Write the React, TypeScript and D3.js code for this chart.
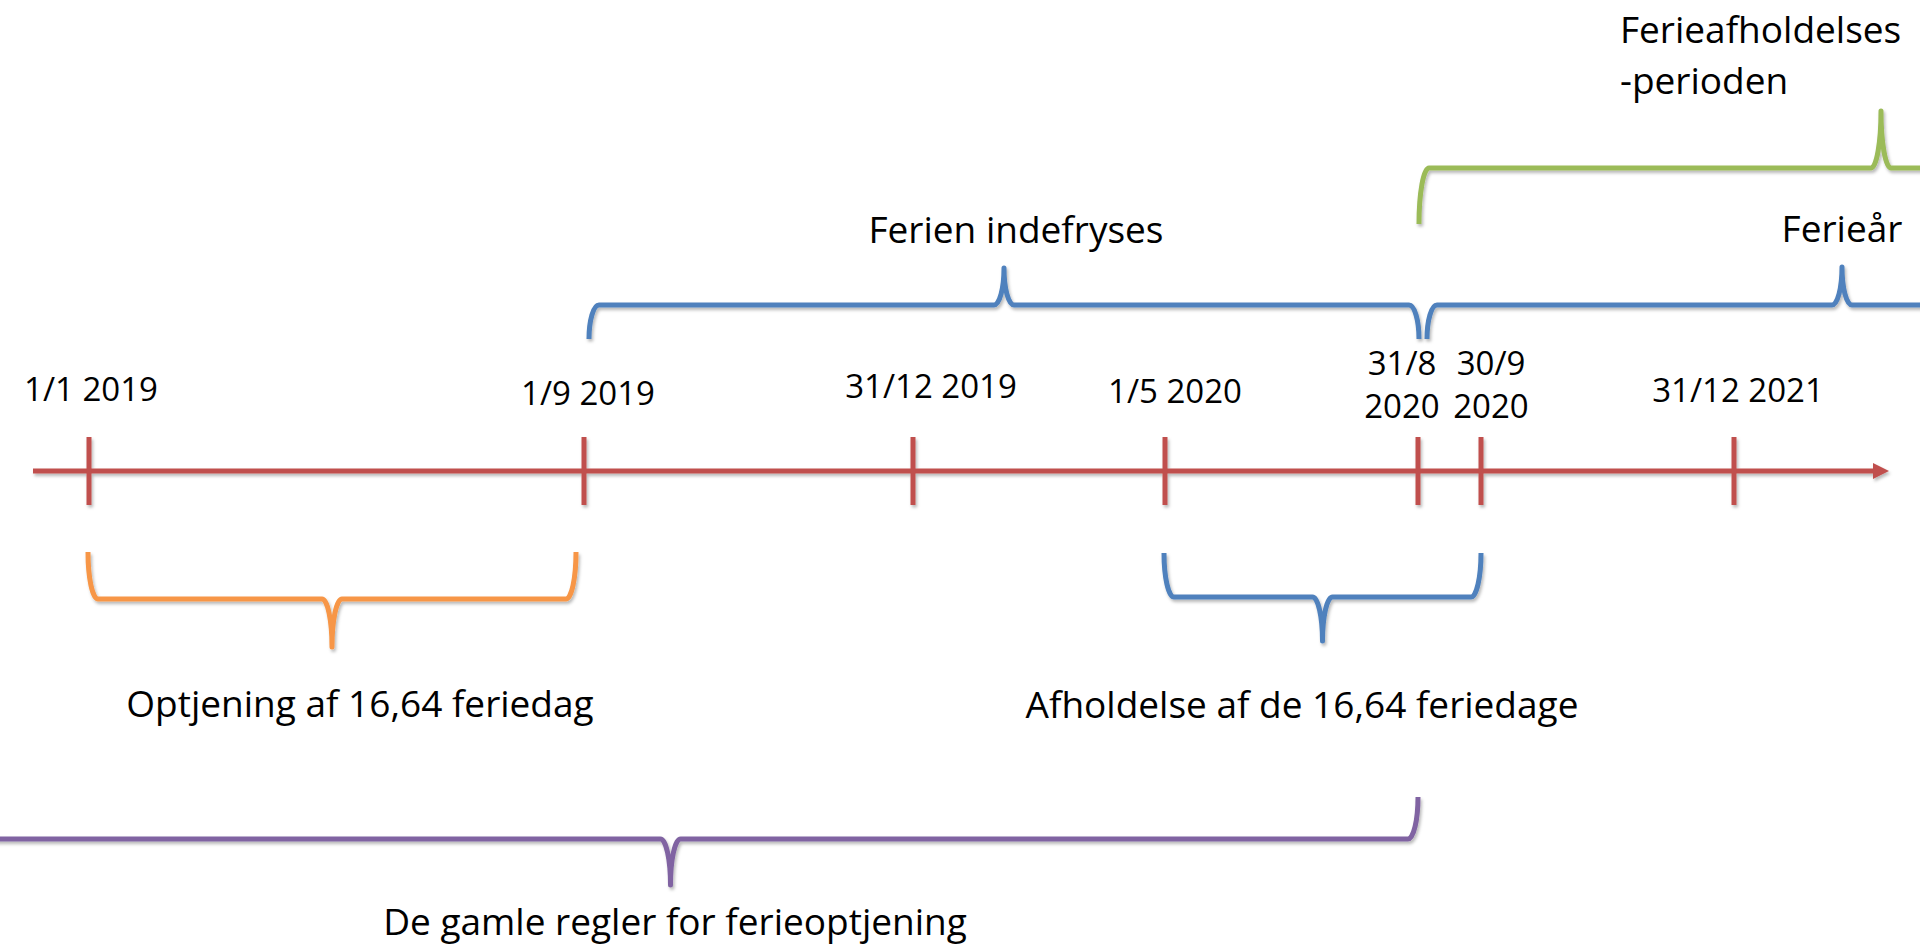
import React from "react";
import * as d3 from "d3";

// ---------- data (timeline units) ----------
const tickLabels = ["1/1 2019", "1/9 2019", "31/12 2019", "1/5 2020", "31/8\n2020", "30/9\n2020", "31/12 2021"];
const tickPositions = [89, 584, 913, 1165, 1418, 1481, 1734];

const braceLabels = [
  "Optjening af 16,64 feriedag",
  "Afholdelse af de 16,64 feriedage",
  "De gamle regler for ferieoptjening",
  "Ferien indefryses",
  "Ferieår",
  "Ferieafholdelses\n-perioden",
];
const braceFrom = [88, 1164, -77, 589, 1427, 1419];
const braceTo = [576, 1481, 1418, 1419, 2257, 2343];
const braceColors = ["#F79646", "#4F81BD", "#8064A2", "#4F81BD", "#4F81BD", "#9BBB59"];

// ---------- layout ----------
const W = 1920;
const H = 945;
const AXIS_Y = 471;
const AXIS_X0 = 33;
const AXIS_X1 = 1873;
const ARROW_TIP = 1889;
const TICK_HALF = 34;
// label nudges relative to tick (dx, baseline y of first line)
const tickLabelLayout = [
  { dx: 2, y: 401 },
  { dx: 4, y: 405 },
  { dx: 18, y: 398 },
  { dx: 10, y: 403 },
  { dx: -16, y: 375 },
  { dx: 10, y: 375 },
  { dx: 4, y: 402 },
];
// brace vertical levels: end, middle, tip; label anchor
const braceLayout = [
  { yEnd: 552, yMid: 599, yTip: 647, lx: 360, ly: 717, anchor: "middle" },
  { yEnd: 553, yMid: 597, yTip: 641, lx: 1302, ly: 718, anchor: "middle" },
  { yEnd: 797, yMid: 839, yTip: 885, lx: 675, ly: 935, anchor: "middle" },
  { yEnd: 339, yMid: 305, yTip: 268, lx: 1016, ly: 243, anchor: "middle" },
  { yEnd: 339, yMid: 305, yTip: 267, lx: 1842, ly: 242, anchor: "middle" },
  { yEnd: 224, yMid: 168, yTip: 111, lx: 1620, ly: 43, anchor: "start" },
];

const FONT = "'Open Sans', 'Liberation Sans', sans-serif";

function bracePath(x1: number, x2: number, yEnd: number, yMid: number, yTip: number) {
  const rx = 10;
  const xt = (x1 + x2) / 2;
  const ry1 = Math.abs(yMid - yEnd);
  const ry2 = Math.abs(yTip - yMid);
  const p = d3.path();
  // build with SVG arc commands (elliptical) as string
  const down = yTip > yMid; // tip points downward
  const s1 = down ? 0 : 1;
  const s2 = down ? 1 : 0;
  let d = `M${x1},${yEnd}`;
  d += ` A${rx},${ry1} 0 0 ${s1} ${x1 + rx},${yMid}`;
  d += ` L${xt - rx},${yMid}`;
  d += ` A${rx},${ry2} 0 0 ${s2} ${xt},${yTip}`;
  d += ` A${rx},${ry2} 0 0 ${s2} ${xt + rx},${yMid}`;
  d += ` L${x2 - rx},${yMid}`;
  d += ` A${rx},${ry1} 0 0 ${s1} ${x2},${yEnd}`;
  void p;
  return d;
}

export default function App() {
  if (typeof document !== "undefined") document.body.style.margin = "0";
  const x = d3.scaleLinear().domain([0, W]).range([0, W]);
  const red = "#C0504D";

  return (
    <div style={{ position: "absolute", left: 0, top: 0, width: W, height: H, overflow: "hidden", background: "#fff" }}>
      <svg width={W} height={H} style={{ display: "block" }}>
        <defs>
          <filter id="sh" x="-5%" y="-50%" width="110%" height="200%">
            <feDropShadow dx="1.5" dy="2.5" stdDeviation="1.6" floodColor="#000" floodOpacity="0.28" />
          </filter>
        </defs>

        {/* axis */}
        <g filter="url(#sh)">
          <line x1={x(AXIS_X0)} x2={x(AXIS_X1)} y1={AXIS_Y} y2={AXIS_Y} stroke={red} strokeWidth={5} />
          <polygon
            points={`${x(AXIS_X1)},${AXIS_Y - 8} ${x(ARROW_TIP)},${AXIS_Y} ${x(AXIS_X1)},${AXIS_Y + 8}`}
            fill={red}
          />
          {tickPositions.map((t, i) => (
            <line key={i} x1={x(t)} x2={x(t)} y1={AXIS_Y - TICK_HALF} y2={AXIS_Y + TICK_HALF} stroke={red} strokeWidth={5} />
          ))}
        </g>

        {/* braces */}
        {braceLabels.map((lab, i) => {
          const L = braceLayout[i];
          return (
            <path
              key={"b" + i}
              d={bracePath(x(braceFrom[i]), x(braceTo[i]), L.yEnd, L.yMid, L.yTip)}
              fill="none"
              stroke={braceColors[i]}
              strokeWidth={5}
              strokeLinejoin="round"
              filter="url(#sh)"
            />
          );
        })}

        {/* tick labels */}
        {tickLabels.map((lab, i) => {
          const L = tickLabelLayout[i];
          const lines = lab.split("\n");
          return (
            <text key={"t" + i} x={x(tickPositions[i] + L.dx)} y={L.y} fontFamily={FONT} fontSize={33} textAnchor="middle" fill="#000">
              {lines.map((ln, j) => (
                <tspan key={j} x={x(tickPositions[i] + L.dx)} dy={j === 0 ? 0 : 43}>
                  {ln}
                </tspan>
              ))}
            </text>
          );
        })}

        {/* brace labels */}
        {braceLabels.map((lab, i) => {
          const L = braceLayout[i];
          const lines = lab.split("\n");
          return (
            <text key={"l" + i} x={L.lx} y={L.ly} fontFamily={FONT} fontSize={37} textAnchor={L.anchor} fill="#000">
              {lines.map((ln, j) => (
                <tspan key={j} x={L.lx} dy={j === 0 ? 0 : 51}>
                  {ln}
                </tspan>
              ))}
            </text>
          );
        })}
      </svg>
    </div>
  );
}
